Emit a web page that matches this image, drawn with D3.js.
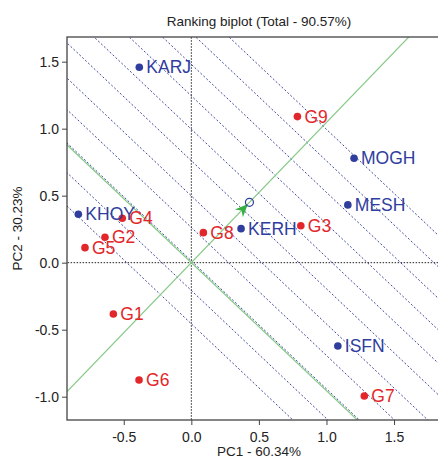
<!DOCTYPE html>
<html>
<head>
<meta charset="utf-8">
<script src="https://cdn.jsdelivr.net/npm/d3@7"></script>
<style>
  body { margin: 0; background: #fff; }
  text { font-family: Arial, "Liberation Sans", sans-serif; }
</style>
</head>
<body>
<div id="my_dataviz"></div>
<script>
// Genotypes (red) and environments (blue), PC1 / PC2 scores
const genotypes = ["G1", "G2", "G3", "G4", "G5", "G6", "G7", "G8", "G9"];
const genoPC1 = [-0.577, -0.639, 0.81, -0.511, -0.787, -0.387, 1.28, 0.089, 0.785];
const genoPC2 = [-0.383, 0.19, 0.276, 0.331, 0.112, -0.875, -0.995, 0.224, 1.09];

const environments = ["KARJ", "MOGH", "MESH", "KERH", "KHOY", "ISFN"];
const envPC1 = [-0.385, 1.204, 1.158, 0.368, -0.836, 1.084];
const envPC2 = [1.458, 0.779, 0.431, 0.254, 0.361, -0.622];

// average environment (end of the green arrow)
const avgEnv = [0.43, 0.45];

// positions of the dotted ranking lines along the average-environment axis
const rankLines = [-0.33, -0.15, 0.01, 0.19, 0.36, 0.55, 0.72, 0.90, 1.07, 1.24, 1.41];

const xTicks = [-0.5, 0, 0.5, 1, 1.5];
const yTicks = [-1, -0.5, 0, 0.5, 1, 1.5];

const W = 438, H = 463;
const plot = {left: 67, top: 37, right: 440, bottom: 420};

const svg = d3.select("#my_dataviz")
  .append("svg")
  .attr("width", W)
  .attr("height", H);

const x = d3.scaleLinear().domain([-0.92, 1.84]).range([plot.left, plot.right]);
const y = d3.scaleLinear().domain([-1.174, 1.684]).range([plot.bottom, plot.top]);

svg.append("defs").append("clipPath")
  .attr("id", "clip")
  .append("rect")
  .attr("x", plot.left)
  .attr("y", plot.top)
  .attr("width", plot.right - plot.left)
  .attr("height", plot.bottom - plot.top);

const inner = svg.append("g").attr("clip-path", "url(#clip)");

// unit vectors: u along the average environment axis, v perpendicular to it
const len = Math.hypot(avgEnv[0], avgEnv[1]);
const u = [avgEnv[0] / len, avgEnv[1] / len];
const v = [-u[1], u[0]];

const line = d3.line().x(d => x(d[0])).y(d => y(d[1]));
const along = (base, dir) => [
  [base[0] - 5 * dir[0], base[1] - 5 * dir[1]],
  [base[0] + 5 * dir[0], base[1] + 5 * dir[1]]
];

// dotted ranking lines (perpendicular to the axis)
inner.selectAll(".rank")
  .data(rankLines)
  .join("path")
  .attr("class", "rank")
  .attr("d", s => line(along([s * u[0], s * u[1]], v)))
  .attr("fill", "none")
  .attr("stroke", "#3f4aa0")
  .attr("stroke-width", 1)
  .attr("stroke-dasharray", "2,2");

// black dotted axes through origin
inner.append("path")
  .attr("d", line([[-5, 0], [5, 0]]))
  .attr("stroke", "#222")
  .attr("stroke-width", 1)
  .attr("stroke-dasharray", "1.5,1.5");
inner.append("path")
  .attr("d", line([[0, -5], [0, 5]]))
  .attr("stroke", "#222")
  .attr("stroke-width", 1)
  .attr("stroke-dasharray", "1.5,1.5");

// green average environment axis and its ordinate
inner.append("path")
  .attr("d", line(along([0, 0], u)))
  .attr("stroke", "#86c986")
  .attr("stroke-width", 1.2);
inner.append("path")
  .attr("d", line(along([0, 0], v)))
  .attr("stroke", "#86c986")
  .attr("stroke-width", 1.2);

// arrow head pointing at the average environment circle
const cx = x(avgEnv[0]), cy = y(avgEnv[1]);
const ang = Math.atan2(cy - y(0), cx - x(0));
const tip = [cx - 2.2 * Math.cos(ang), cy - 2.2 * Math.sin(ang)];
const pt = (l, w) => [
  tip[0] - l * Math.cos(ang) - w * Math.sin(ang),
  tip[1] - l * Math.sin(ang) + w * Math.cos(ang)
];
inner.append("path")
  .attr("d", d3.line()([tip, pt(13, 5.5), pt(9, 0), pt(13, -5.5)]) + "Z")
  .attr("fill", "#35b040");

inner.append("circle")
  .attr("cx", cx)
  .attr("cy", cy)
  .attr("r", 4)
  .attr("fill", "none")
  .attr("stroke", "#2f3d9e")
  .attr("stroke-width", 1.2);

// points + labels
const red = "#e3262a", blue = "#2f3d9e";
const genoData = genotypes.map((g, i) => ({name: g, px: genoPC1[i], py: genoPC2[i], col: red}));
const envData = environments.map((e, i) => ({name: e, px: envPC1[i], py: envPC2[i], col: blue}));
const allPts = envData.concat(genoData);

inner.selectAll(".dot")
  .data(allPts)
  .join("circle")
  .attr("class", "dot")
  .attr("cx", d => x(d.px))
  .attr("cy", d => y(d.py))
  .attr("r", 3.8)
  .attr("fill", d => d.col);

inner.selectAll(".lab")
  .data(allPts)
  .join("text")
  .attr("class", "lab")
  .attr("x", d => x(d.px) + 7)
  .attr("y", d => y(d.py))
  .attr("dy", "0.35em")
  .attr("font-size", "17.5px")
  .attr("fill", d => d.col)
  .text(d => d.name);

// frame
svg.append("rect")
  .attr("x", plot.left)
  .attr("y", plot.top)
  .attr("width", plot.right - plot.left)
  .attr("height", plot.bottom - plot.top)
  .attr("fill", "none")
  .attr("stroke", "#444")
  .attr("stroke-width", 1.3);

// axes
const fmt = d => d.toFixed(1);
const xAxis = svg.append("g")
  .attr("transform", `translate(0,${plot.bottom})`)
  .call(d3.axisBottom(x).tickValues(xTicks).tickFormat(fmt).tickSize(5).tickSizeOuter(0).tickPadding(7.5));
const yAxis = svg.append("g")
  .attr("transform", `translate(${plot.left},0)`)
  .call(d3.axisLeft(y).tickValues(yTicks).tickFormat(fmt).tickSize(5).tickSizeOuter(0).tickPadding(3));

[xAxis, yAxis].forEach(a => {
  a.select(".domain").remove();
  a.selectAll("line").attr("stroke", "#444");
  a.selectAll("text").attr("font-size", "14px").attr("fill", "#222")
    .attr("font-family", "Arial, 'Liberation Sans', sans-serif");
});

// titles
svg.append("text")
  .attr("x", 259)
  .attr("y", 26)
  .attr("text-anchor", "middle")
  .attr("font-size", "13.5px")
  .attr("fill", "#222")
  .text("Ranking biplot (Total - 90.57%)");

svg.append("text")
  .attr("x", 259)
  .attr("y", 456)
  .attr("text-anchor", "middle")
  .attr("font-size", "13.5px")
  .attr("fill", "#222")
  .text("PC1 - 60.34%");

svg.append("text")
  .attr("transform", `translate(22,${(plot.top + plot.bottom) / 2}) rotate(-90)`)
  .attr("text-anchor", "middle")
  .attr("font-size", "13.5px")
  .attr("fill", "#222")
  .text("PC2 - 30.23%");
</script>
</body>
</html>
